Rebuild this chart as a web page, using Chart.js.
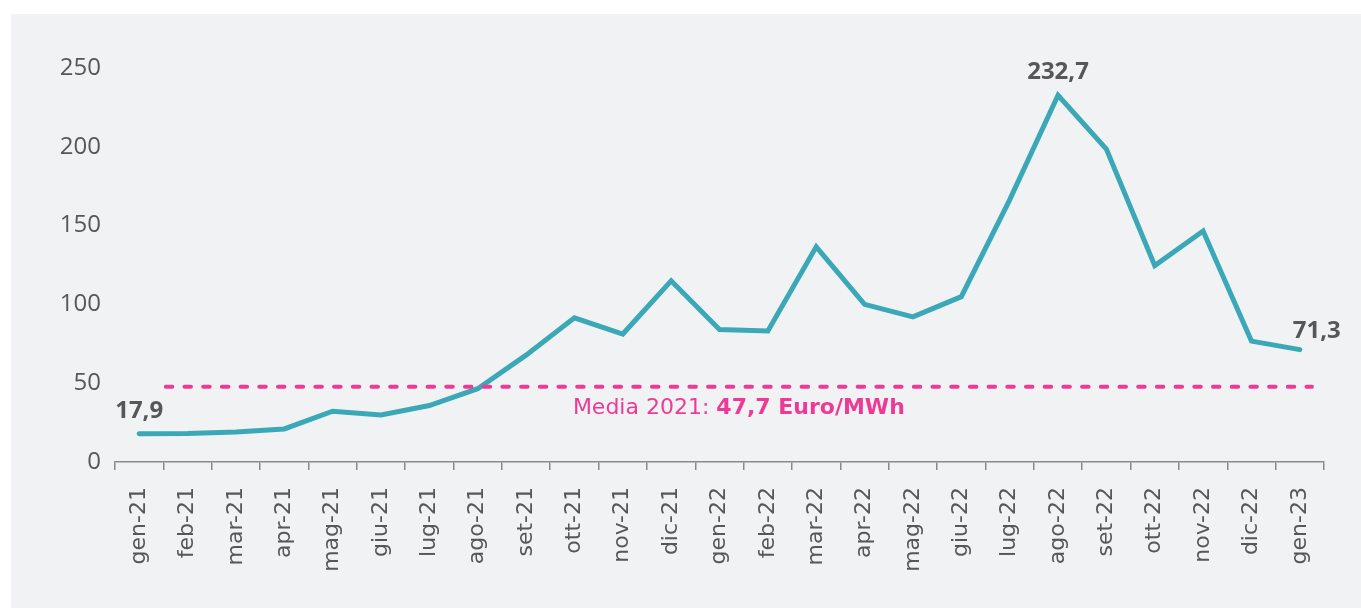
<!DOCTYPE html>
<html>
<head>
<meta charset="utf-8">
<script src="https://cdn.jsdelivr.net/npm/chart.js@4/dist/chart.umd.min.js"></script>
<style>
  html, body { margin: 0; padding: 0; background: #ffffff; overflow: hidden; }
  #box { position: absolute; left: 11px; top: 14px; width: 1350px; height: 594px; background: #f1f2f4; }
</style>
</head>
<body>
<div id="box"><canvas id="prezzoChart" width="1350" height="594"></canvas></div>
<script>
// mesi (asse x) e prezzo medio mensile in Euro/MWh
var mesi = ['gen-21','feb-21','mar-21','apr-21','mag-21','giu-21','lug-21','ago-21','set-21','ott-21','nov-21','dic-21',
            'gen-22','feb-22','mar-22','apr-22','mag-22','giu-22','lug-22','ago-22','set-22','ott-22','nov-22','dic-22','gen-23'];
var prezzi = [17.9, 18.1, 19.1, 21.0, 32.2, 29.9, 35.8, 46.5, 67.8, 91.5, 81.2, 115.0,
              84.1, 83.1, 136.5, 100.0, 92.1, 104.9, 166.3, 232.7, 198.5, 124.6, 146.6, 76.7, 71.3];
var etichette = [0, 19, 24]; // punti con il valore scritto sopra
var media2021 = 47.7;
var tickY = [0, 50, 100, 150, 200, 250];

var grigio = '#575757';
var rosa = '#ee3a96';

function numIt(v) {
  return v.toFixed(1).replace('.', ',');
}

// linea tratteggiata della media + valori sui punti
var extra = {
  id: 'extra',
  afterDatasetsDraw: function(chart) {
    var ctx = chart.ctx;
    var x = chart.scales.x, y = chart.scales.y;
    var meta = chart.getDatasetMeta(0);

    // media 2021
    var x0 = x.getPixelForValue(0.55), x1 = x.getPixelForValue(24.25);
    var ym = y.getPixelForValue(media2021);
    ctx.save();
    ctx.strokeStyle = rosa;
    ctx.lineWidth = 4;
    ctx.lineCap = 'round';
    ctx.setLineDash([6.5, 12.2]);
    ctx.beginPath();
    ctx.moveTo(x0, ym);
    ctx.lineTo(x1, ym);
    ctx.stroke();
    ctx.setLineDash([]);

    var t1 = 'Media 2021: ', t2 = numIt(media2021) + ' Euro/MWh';
    ctx.font = '22px "DejaVu Sans"';
    var w1 = ctx.measureText(t1).width;
    ctx.font = 'bold 22px "DejaVu Sans"';
    var w2 = ctx.measureText(t2).width;
    var sx = (x0 + x1) / 2 - (w1 + w2) / 2;
    ctx.fillStyle = rosa;
    ctx.textBaseline = 'middle';
    ctx.textAlign = 'left';
    ctx.font = '22px "DejaVu Sans"';
    ctx.fillText(t1, sx, ym + 21);
    ctx.font = 'bold 22px "DejaVu Sans"';
    ctx.fillText(t2, sx + w1, ym + 21);

    // valori
    ctx.font = 'bold 24px "Open Sans"';
    ctx.fillStyle = grigio;
    ctx.textAlign = 'center';
    etichette.forEach(function(i) {
      var p = meta.data[i];
      var dx = 0, dy = -23;
      if (i === prezzi.length - 1) { dx = 17; dy = -18; }
      ctx.fillText(numIt(prezzi[i]), p.x + dx, p.y + dy);
    });
    ctx.restore();
  }
};

new Chart(document.getElementById('prezzoChart'), {
  type: 'line',
  data: {
    labels: mesi,
    datasets: [{
      data: prezzi,
      borderColor: '#3aa8b6',
      borderWidth: 5,
      borderCapStyle: 'round',
      borderJoinStyle: 'miter',
      pointRadius: 0,
      fill: false,
      tension: 0
    }]
  },
  options: {
    responsive: false,
    animation: false,
    layout: { padding: { top: 54, right: 37, left: 0, bottom: 0 } },
    plugins: { legend: { display: false }, tooltip: { enabled: false } },
    scales: {
      x: {
        offset: true,
        grid: { display: true, offset: true, drawOnChartArea: false, drawTicks: true, tickLength: 8, color: '#8a8a8a', lineWidth: 1.5 },
        border: { display: true, color: '#8a8a8a', width: 1.5 },
        ticks: { color: grigio, font: { family: 'DejaVu Sans', size: 22 }, maxRotation: 90, minRotation: 90, padding: 17, autoSkip: false },
        afterFit: function(s) { s.height = 146; }
      },
      y: {
        min: 0,
        max: 250,
        afterBuildTicks: function(s) { s.ticks = tickY.map(function(v) { return { value: v }; }); },
        grid: { display: false, drawTicks: false },
        border: { display: false },
        ticks: { color: grigio, font: { family: 'Open Sans', size: 24 }, padding: 14 },
        afterFit: function(s) { s.width = 104; }
      }
    }
  },
  plugins: [extra]
});
</script>
</body>
</html>
